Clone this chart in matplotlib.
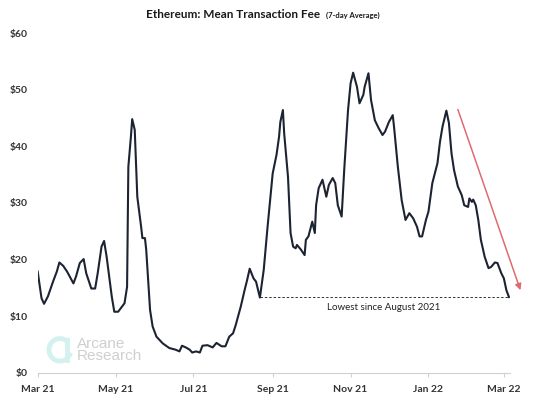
import matplotlib
matplotlib.use("Agg")
import matplotlib.pyplot as plt
import matplotlib.dates as mdates
from matplotlib.patches import Arc
import pandas as pd

plt.rcParams['font.family'] = ['Lato', 'DejaVu Sans']

# 7-day average mean transaction fee (USD)
dates = [
    "2021-03-01", "2021-03-04", "2021-03-06", "2021-03-09", "2021-03-13", "2021-03-16",
    "2021-03-18", "2021-03-21", "2021-03-24", "2021-03-29", "2021-03-31", "2021-04-03",
    "2021-04-06", "2021-04-08", "2021-04-12", "2021-04-15", "2021-04-17", "2021-04-20",
    "2021-04-22", "2021-04-24", "2021-04-28", "2021-04-30", "2021-05-03", "2021-05-05",
    "2021-05-08", "2021-05-10", "2021-05-11", "2021-05-13", "2021-05-14", "2021-05-16",
    "2021-05-18", "2021-05-21", "2021-05-22", "2021-05-24", "2021-05-25", "2021-05-28",
    "2021-05-30", "2021-06-02", "2021-06-07", "2021-06-12", "2021-06-17", "2021-06-20",
    "2021-06-22", "2021-06-25", "2021-06-28", "2021-06-30", "2021-07-03", "2021-07-06",
    "2021-07-08", "2021-07-12", "2021-07-16", "2021-07-19", "2021-07-23", "2021-07-26",
    "2021-07-29", "2021-08-01", "2021-08-03", "2021-08-07", "2021-08-10", "2021-08-12",
    "2021-08-14", "2021-08-17", "2021-08-19", "2021-08-22", "2021-08-25", "2021-08-28",
    "2021-09-01", "2021-09-04", "2021-09-06", "2021-09-07", "2021-09-09", "2021-09-10",
    "2021-09-13", "2021-09-15", "2021-09-17", "2021-09-19", "2021-09-20", "2021-09-23",
    "2021-09-26", "2021-09-27", "2021-09-29", "2021-10-02", "2021-10-04", "2021-10-05",
    "2021-10-07", "2021-10-10", "2021-10-13", "2021-10-15", "2021-10-18", "2021-10-20",
    "2021-10-22", "2021-10-25", "2021-10-27", "2021-10-30", "2021-11-01", "2021-11-03",
    "2021-11-06", "2021-11-08", "2021-11-11", "2021-11-12", "2021-11-15", "2021-11-17",
    "2021-11-20", "2021-11-23", "2021-11-26", "2021-11-28", "2021-12-01", "2021-12-04",
    "2021-12-05", "2021-12-08", "2021-12-11", "2021-12-14", "2021-12-17", "2021-12-20",
    "2021-12-23", "2021-12-25", "2021-12-27", "2021-12-30", "2022-01-01", "2022-01-04",
    "2022-01-08", "2022-01-10", "2022-01-12", "2022-01-15", "2022-01-17", "2022-01-19",
    "2022-01-21", "2022-01-24", "2022-01-27", "2022-01-29", "2022-02-01", "2022-02-02",
    "2022-02-04", "2022-02-05", "2022-02-07", "2022-02-09", "2022-02-11", "2022-02-14",
    "2022-02-17", "2022-02-19", "2022-02-22", "2022-02-24", "2022-02-27", "2022-03-01",
    "2022-03-03", "2022-03-05",
]
fee = [
    17.9, 13.2, 12.2, 13.5, 16.1, 17.9,
    19.5, 18.9, 17.9, 15.8, 17.0, 19.4,
    20.1, 17.6, 14.9, 14.9, 17.6, 22.3,
    23.3, 20.5, 13.5, 10.8, 10.8, 11.4,
    12.3, 15.2, 36.4, 41.7, 44.8, 42.9,
    31.1, 25.8, 23.8, 23.8, 21.7, 11.1,
    8.2, 6.4, 5.2, 4.4, 4.1, 3.8,
    4.8, 4.5, 4.1, 3.6, 3.8, 3.6,
    4.8, 4.9, 4.5, 5.3, 4.7, 4.7,
    6.4, 7.0, 8.4, 11.7, 14.6, 16.4,
    18.4, 16.7, 16.1, 13.3, 18.2, 25.8,
    35.2, 38.5, 41.7, 44.3, 46.4, 42.3,
    34.6, 24.7, 22.3, 22.0, 22.6, 21.8,
    20.8, 23.5, 24.1, 26.7, 24.7, 29.6,
    32.6, 34.1, 31.1, 33.2, 34.4, 33.5,
    29.6, 27.6, 35.8, 46.4, 51.1, 53.0,
    50.5, 47.6, 49.1, 50.5, 52.9, 48.2,
    44.6, 43.2, 42.0, 42.6, 44.3, 45.5,
    43.5, 36.4, 30.5, 27.0, 28.2, 27.3,
    25.8, 24.1, 24.1, 27.0, 28.5, 33.5,
    37.0, 40.8, 43.5, 46.3, 44.1, 38.8,
    35.8, 32.9, 31.4, 29.6, 29.3, 30.8,
    30.2, 30.6, 29.6, 27.0, 23.5, 20.5,
    18.5, 18.7, 19.5, 19.4, 17.6, 16.7,
    14.6, 13.4,
]
xtick_dates = ["2021-03-01", "2021-05-01", "2021-07-01", "2021-09-01",
               "2021-11-01", "2022-01-01", "2022-03-01"]
yticks = [0, 10, 20, 30, 40, 50, 60]

# trend arrow (start / end) and annotation
arrow_from = ("2022-01-24", 46.5)
arrow_to = ("2022-03-14", 14.6)
low_since = "2021-08-22"
note_pos = ("2021-11-27", 11.5)

x = pd.to_datetime(dates)

fig = plt.figure(figsize=(5.54, 3.98), dpi=100)
ax = fig.add_axes([0.068, 0.063, 0.853, 0.854])

ax.plot(x, fee, color='#1c2333', lw=1.5, solid_joinstyle='round')

# lowest level since August line
ax.hlines(fee[-1], pd.Timestamp(low_since), x[-1], colors='#333333',
          linestyles=(0, (2.5, 2)), lw=0.7)
ax.text(pd.Timestamp(note_pos[0]), note_pos[1], "Lowest since August 2021",
        ha='center', va='center', fontsize=7, color='#222222')

ax.annotate("", xy=(pd.Timestamp(arrow_to[0]), arrow_to[1]),
            xytext=(pd.Timestamp(arrow_from[0]), arrow_from[1]),
            arrowprops=dict(arrowstyle='-|>', color='#de6b6f', lw=1.1,
                            mutation_scale=9, shrinkA=0, shrinkB=0),
            annotation_clip=False)

ax.set_xlim(pd.Timestamp("2021-03-01"), pd.Timestamp("2022-03-06"))
ax.set_ylim(0, 60)
ax.set_xticks(pd.to_datetime(xtick_dates))
ax.xaxis.set_major_formatter(mdates.DateFormatter('%b %y'))
ax.set_yticks(yticks)
ax.set_yticklabels([f"${v}" for v in yticks])

for s in ['top', 'right', 'left']:
    ax.spines[s].set_visible(False)
ax.spines['bottom'].set_color('#d0d0d0')
ax.tick_params(axis='x', length=3, color='#d0d0d0', labelsize=7.5,
               labelcolor='#333333', pad=6)
ax.tick_params(axis='y', length=0, labelsize=7.5, labelcolor='#333333', pad=7)
for lab in ax.get_xticklabels() + ax.get_yticklabels():
    lab.set_fontweight('bold')

# title
fig.text(0.578, 0.963, "Ethereum: Mean Transaction Fee", ha='right', va='center',
         fontsize=8.5, fontweight='bold', color='#1a1a1a')
fig.text(0.636, 0.961, "(7-day Average)", ha='center', va='center',
         fontsize=5.5, fontweight='bold', color='#1a1a1a')

# watermark
logo = Arc((0.047, 0.068), 0.046, 0.066, theta1=60, theta2=340, transform=ax.transAxes,
           color='#d4f1ef', lw=3.5)
ax.add_patch(logo)
ax.plot([0.063, 0.063], [0.038, 0.098], transform=ax.transAxes, color='#d4f1ef', lw=3.5)
ax.text(0.083, 0.068, "Arcane\nResearch", transform=ax.transAxes, ha='left', va='center',
        fontsize=11, color='#cfcfcf', linespacing=0.85, family='Liberation Sans')

fig.savefig("out.png", dpi=100)
